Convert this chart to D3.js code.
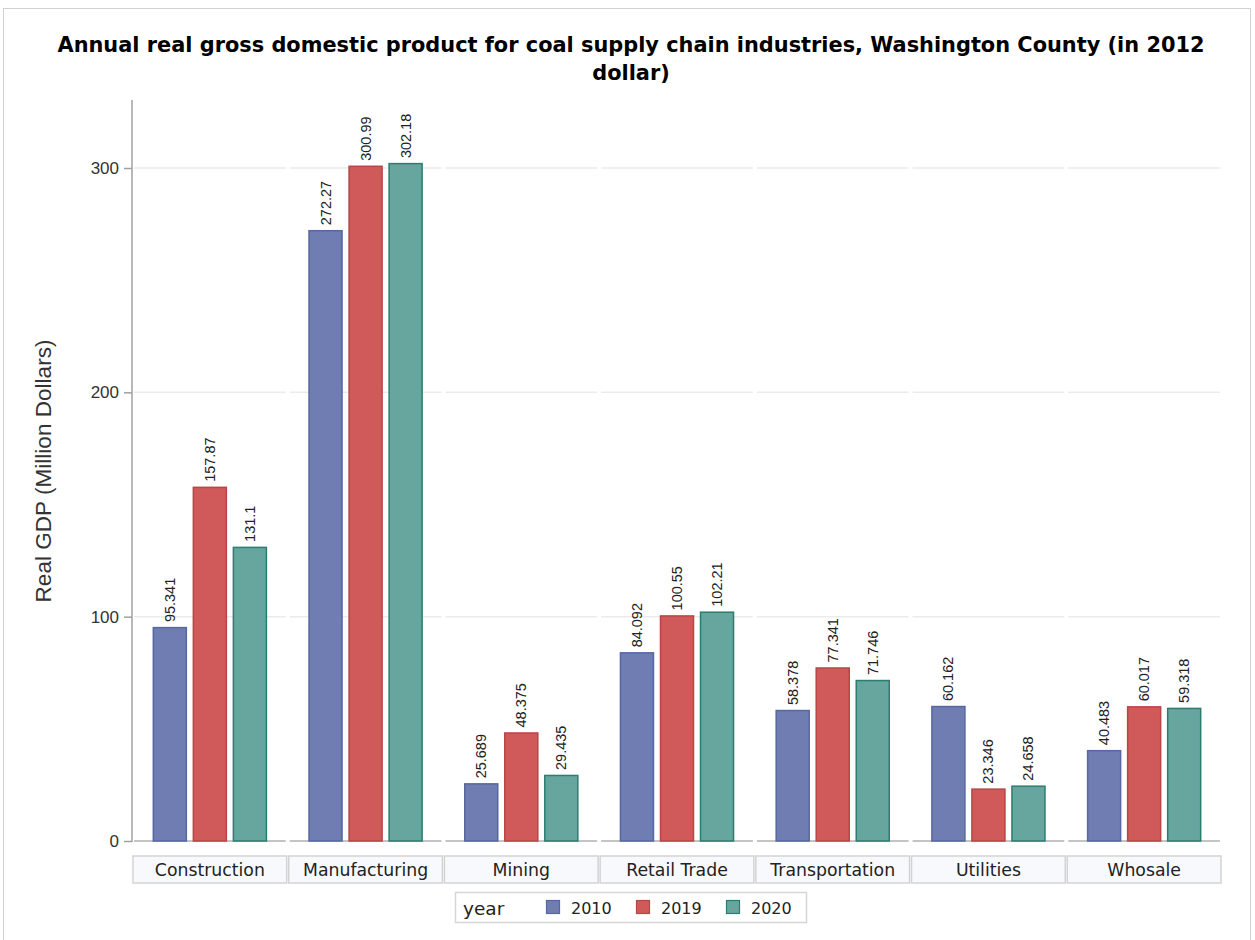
<!DOCTYPE html>
<html><head><meta charset="utf-8">
<script src="https://d3js.org/d3.v7.min.js"></script>
<style>body{margin:0;background:#fff;}svg{display:block;}</style>
</head><body>
<script>
const categories = ["Construction","Manufacturing","Mining","Retail Trade","Transportation","Utilities","Whosale"];
const years = ["2010","2019","2020"];
const v2010 = [95.341,272.27,25.689,84.092,58.378,60.162,40.483];
const v2019 = [157.87,300.99,48.375,100.55,77.341,23.346,60.017];
const v2020 = [131.1,302.18,29.435,102.21,71.746,24.658,59.318];
const labels2010 = ["95.341","272.27","25.689","84.092","58.378","60.162","40.483"];
const labels2019 = ["157.87","300.99","48.375","100.55","77.341","23.346","60.017"];
const labels2020 = ["131.1","302.18","29.435","102.21","71.746","24.658","59.318"];
const yTicks = [0,100,200,300];
const fills = ["#6F7DB3","#D05A5A","#66A69F"];
const strokes = ["#5767A0","#B84646","#2B7D70"];

(function(){
const series = [v2010,v2019,v2020];
const seriesLabels = [labels2010,labels2019,labels2020];

const W=1255,H=940;
const svg=d3.select("body").append("svg").attr("width",W).attr("height",H);
const font="'Liberation Sans', Arial, sans-serif";
const dfont="'DejaVu Sans', Verdana, sans-serif";
svg.append("rect").attr("x",3.5).attr("y",8.5).attr("width",1247).attr("height",H).attr("fill","#fff").attr("stroke","#d0d0d0");

function fit(sel, target, base){
  const w=sel.node().getComputedTextLength();
  if(w>0) sel.attr("font-size", base*target/w);
}

const pLeft=132,pRight=1222,pTop=100,pBottom=841;
const x=d3.scaleBand().domain(categories).range([pLeft,pRight]).paddingInner(0).paddingOuter(0);
const xi=d3.scaleBand().domain(years).range([0,x.bandwidth()]).paddingInner(0.15).paddingOuter(0.52);
const y=d3.scaleLinear().domain([0,300]).range([pBottom,168]);

// title
const t1=svg.append("text").attr("x",631).attr("y",52).attr("text-anchor","middle")
 .attr("font-family",dfont).attr("font-weight","bold").attr("font-size",20).attr("fill","#000")
 .text("Annual real gross domestic product for coal supply chain industries, Washington County (in 2012");
fit(t1,1148,20);
svg.append("text").attr("x",631).attr("y",80).attr("text-anchor","middle")
 .attr("font-family",dfont).attr("font-weight","bold").attr("font-size",t1.attr("font-size")).attr("fill","#000")
 .text("dollar)");

// gridlines per cell segment
yTicks.forEach(t=>{
  categories.forEach(c=>{
    svg.append("line").attr("x1",x(c)+2).attr("x2",x(c)+x.bandwidth()-2)
      .attr("y1",y(t)).attr("y2",y(t))
      .attr("stroke",t===0?"#c4c4c4":"#ebebeb").attr("stroke-width",t===0?2:1.5);
  });
});

// y axis
const yAxis=d3.axisLeft(y).tickValues(yTicks).tickSize(8).tickPadding(5).tickFormat(d3.format("d"));
const ga=svg.append("g").attr("transform",`translate(${pLeft},0)`).call(yAxis);
ga.select(".domain").remove();
ga.selectAll(".tick line").attr("stroke","#a0a0a0").attr("stroke-width",1.5);
ga.selectAll(".tick text").attr("font-family",font).attr("font-size",17).attr("fill","#333");
svg.append("line").attr("x1",pLeft).attr("x2",pLeft).attr("y1",pTop).attr("y2",pBottom+1).attr("stroke","#a0a0a0").attr("stroke-width",1.5);

// y label
const yl=svg.append("text").attr("transform",`translate(51,${471}) rotate(-90)`).attr("text-anchor","middle")
  .attr("font-family",font).attr("font-size",20).attr("fill","#333").text("Real GDP (Million Dollars)");
fit(yl,263,20);

// bars
years.forEach((yr,si)=>{
  const g=svg.append("g");
  categories.forEach((c,ci)=>{
    const val=series[si][ci];
    const bx=x(c)+xi(yr);
    g.append("rect").attr("x",bx+0.5).attr("y",y(val)+0.5).attr("width",xi.bandwidth()-1).attr("height",y(0)-y(val)-0.5)
      .attr("fill",fills[si]).attr("stroke",strokes[si]).attr("stroke-width",1.5);
    g.append("text").attr("transform",`translate(${bx+xi.bandwidth()/2+5},${y(val)-5}) rotate(-90)`)
      .attr("font-family",font).attr("font-size",14.5).attr("fill","#222").text(seriesLabels[si][ci]);
  });
});

// category boxes
categories.forEach(c=>{
  svg.append("rect").attr("x",x(c)+1).attr("y",856).attr("width",x.bandwidth()-2).attr("height",27)
    .attr("fill","#f8f9fd").attr("stroke","#d3d3d3").attr("stroke-width",1.5);
  svg.append("text").attr("x",x(c)+x.bandwidth()/2).attr("y",876).attr("text-anchor","middle")
    .attr("font-family",dfont).attr("font-size",17.3).attr("fill","#222").text(c);
});

// legend
svg.append("rect").attr("x",455.5).attr("y",892.5).attr("width",351).attr("height",30).attr("fill","#fff").attr("stroke","#d6d6d6").attr("stroke-width",1.5);
svg.append("text").attr("x",463).attr("y",915).attr("font-family",dfont).attr("font-size",18.5).attr("fill","#222").text("year");
const lx=[546,636,726];
years.forEach((yr,i)=>{
  svg.append("rect").attr("x",lx[i]+0.5).attr("y",900.5).attr("width",13).attr("height",13).attr("fill",fills[i]).attr("stroke",strokes[i]).attr("stroke-width",1.2);
  svg.append("text").attr("x",lx[i]+25).attr("y",914).attr("font-family",dfont).attr("font-size",16).attr("fill","#222").text(yr);
});
})();
</script>
</body></html>
